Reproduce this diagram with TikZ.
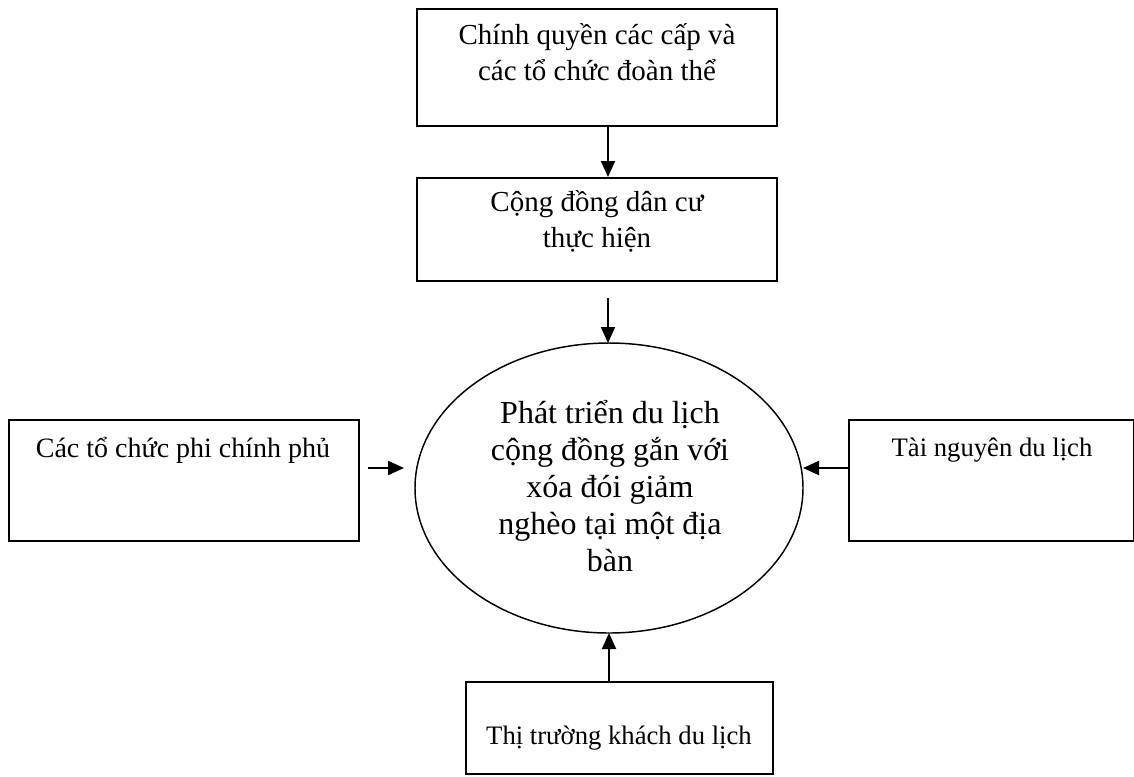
\documentclass[tikz,border=0pt]{standalone}
\usepackage{fontspec}
\setmainfont{Liberation Serif}
\usetikzlibrary{arrows.meta,shapes.geometric,calc}
\begin{document}
\begin{tikzpicture}[x=0.75pt,y=-0.75pt,
  boxnode/.style={draw=black,line width=1.5pt,rectangle,inner sep=0pt,anchor=north west},
  bigtext/.style={font=\fontsize{21.75pt}{27pt}\selectfont,align=center,inner sep=0pt},
  ovaltext/.style={font=\fontsize{24pt}{27.75pt}\selectfont,align=center,inner sep=0pt},
  smalltext/.style={font=\fontsize{20pt}{24pt}\selectfont,align=center,inner sep=0pt},
  arr/.style={line width=1.5pt,-{Triangle[length=12pt,width=10.5pt]}}
]
\useasboundingbox (0,0) rectangle (1134,776);
% boxes
\node[boxnode,minimum width=270pt,minimum height=87.75pt] (top) at (416,8) {};
\node[boxnode,minimum width=270pt,minimum height=77.25pt] (comm) at (416,177) {};
\node[boxnode,minimum width=262.5pt,minimum height=90.75pt] (ngo) at (8,419) {};
\node[boxnode,minimum width=213.75pt,minimum height=90.75pt] (res) at (848,419) {};
\node[boxnode,minimum width=230.25pt,minimum height=69pt] (mkt) at (465,681) {};
\node[draw=black,line width=1.1pt,ellipse,inner sep=0pt,minimum width=291pt,minimum height=217.5pt] (dev) at (609,488) {};
% texts
\node[bigtext] (toptext) at (597,52) {Chính quyền các cấp và\\các tổ chức đoàn thể};
\node[bigtext] (commtext) at (597,221) {Cộng đồng dân cư\\thực hiện};
\node[ovaltext] (devtext) at (610,486) {Phát triển du lịch\\cộng đồng gắn với\\xóa đói giảm\\nghèo tại một địa\\bàn};
\node[smalltext,font=\fontsize{21pt}{24pt}\selectfont] (ngotext) at (183,450) {Các tổ chức phi chính phủ};
\node[smalltext] (restext) at (992,450) {Tài nguyên du lịch};
\node[smalltext] (mkttext) at (619,738) {Thị trường khách du lịch};
% arrow end points
\coordinate (a1s) at (608,127);
\coordinate (a1e) at (608,177);
\coordinate (a2s) at (608,298);
\coordinate (a2e) at (608,343);
\coordinate (a3s) at (368,468);
\coordinate (a3e) at (404,468);
\coordinate (a4s) at (848,468);
\coordinate (a4e) at (803,468);
\coordinate (a5s) at (609,681);
\coordinate (a5e) at (609,633);
\draw[arr] (a1s) -- (a1e);
\draw[arr] (a2s) -- (a2e);
\draw[arr] (a3s) -- (a3e);
\draw[arr] (a4s) -- (a4e);
\draw[arr] (a5s) -- (a5e);
\end{tikzpicture}
\end{document}
